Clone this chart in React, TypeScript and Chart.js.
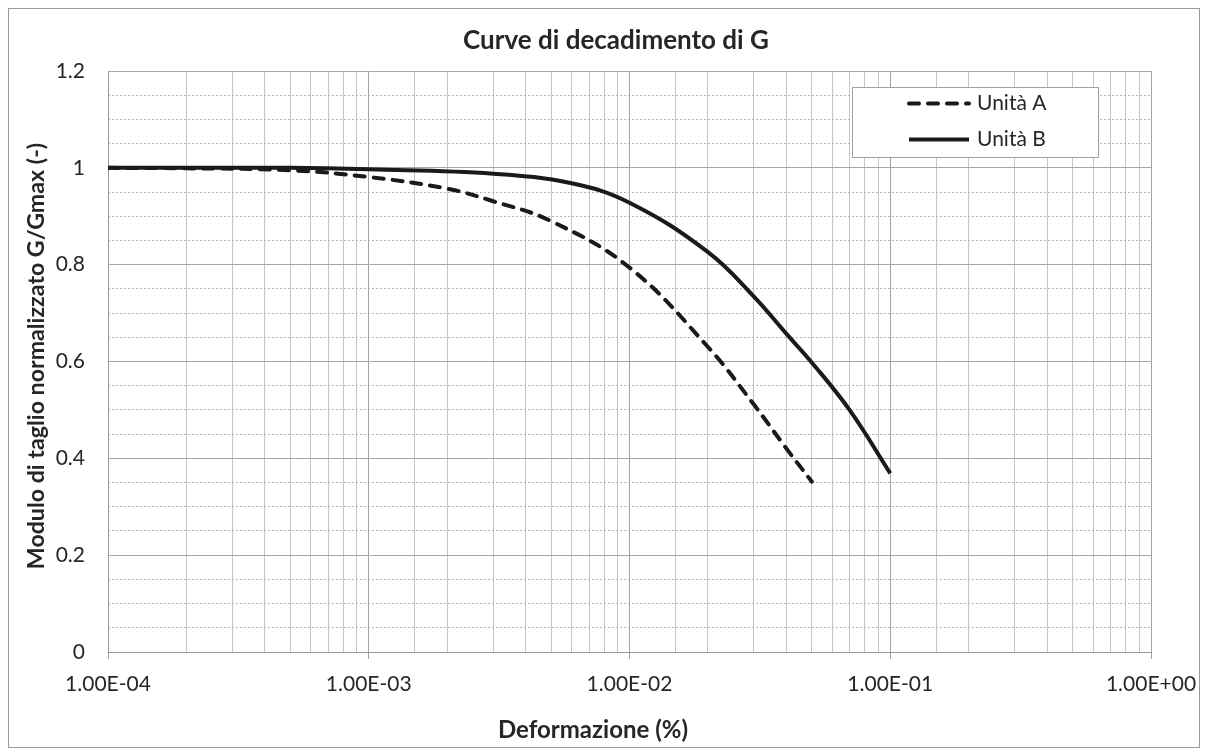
import React, { useEffect, useRef } from "react";
import { Chart, registerables } from "chart.js";

Chart.register(...registerables);

// Shear strain (%) and normalised shear modulus G/Gmax for each unit
const strainA = [1e-4, 2e-4, 5e-4, 1e-3, 2e-3, 3e-3, 5e-3, 1e-2, 2e-2, 3e-2, 4e-2, 5e-2];
const ratioA = [1.0, 0.999, 0.995, 0.981, 0.957, 0.931, 0.89, 0.794, 0.63, 0.511, 0.42, 0.352];

const strainB = [1e-4, 5e-4, 1e-3, 3e-3, 6e-3, 1e-2, 2e-2, 3e-2, 4e-2, 5e-2, 7e-2, 1e-1];
const ratioB = [1.0, 1.0, 0.997, 0.988, 0.968, 0.928, 0.826, 0.734, 0.657, 0.598, 0.499, 0.369];

const seriesLabels = ["Unità A", "Unità B"];

const chartTitle = "Curve di decadimento di G";
const xAxisTitle = "Deformazione (%)";
const yAxisTitle = "Modulo di taglio normalizzato G/Gmax (-)";

const xMin = 1e-4;
const xMax = 1;
const yMin = 0;
const yMax = 1.2;
const yMajorStep = 0.2;
const yMinorStep = 0.05;

const FONT = "Lato, 'Open Sans', sans-serif";
const TEXT = "#262626";
const LINE = "#1a1a1a";

const isDecade = (v: number) => {
  const l = Math.log10(v);
  return Math.abs(l - Math.round(l)) < 1e-6;
};

const isMultiple = (v: number, step: number) =>
  Math.abs(v / step - Math.round(v / step)) < 1e-6;

// 1.00E-04 style labels
const sci = (v: number) => {
  const e = Math.round(Math.log10(v));
  const m = v / Math.pow(10, e);
  const sign = e < 0 ? "-" : "+";
  return m.toFixed(2) + "E" + sign + String(Math.abs(e)).padStart(2, "0");
};

const decorPlugin = {
  id: "decor",
  beforeDraw(chart: any) {
    const { ctx, width, height } = chart;
    ctx.save();
    ctx.fillStyle = "#ffffff";
    ctx.fillRect(0, 0, width, height);
    ctx.strokeStyle = "#9a9a9a";
    ctx.lineWidth = 1;
    ctx.strokeRect(0.5, 0.5, width - 1, height - 1);
    ctx.restore();
  },
  afterDraw(chart: any) {
    const { ctx } = chart;
    ctx.save();
    ctx.fillStyle = TEXT;
    ctx.textAlign = "center";
    ctx.textBaseline = "middle";

    // chart title
    ctx.font = `bold 26px ${FONT}`;
    ctx.fillText(chartTitle, 608, 33);

    // x axis title
    ctx.font = `bold 24px ${FONT}`;
    ctx.fillText(xAxisTitle, 585, 722);

    // y axis title
    ctx.save();
    ctx.font = `bold 23.2px ${FONT}`;
    ctx.translate(29, 348);
    ctx.rotate(-Math.PI / 2);
    ctx.fillText(yAxisTitle, 0, 0);
    ctx.restore();

    // legend box
    const bx = 844.5, by = 79.5, bw = 246, bh = 70;
    ctx.fillStyle = "#ffffff";
    ctx.fillRect(bx, by, bw, bh);
    ctx.strokeStyle = "#a0a0a0";
    ctx.lineWidth = 1;
    ctx.strokeRect(bx, by, bw, bh);

    const rows = [95.5, 131.5];
    chart.data.datasets.forEach((ds: any, i: number) => {
      const y = rows[i];
      ctx.save();
      ctx.strokeStyle = ds.borderColor;
      ctx.lineWidth = ds.borderWidth;
      ctx.lineCap = ds.borderCapStyle || "butt";
      ctx.setLineDash(ds.borderDash || []);
      ctx.beginPath();
      ctx.moveTo(901, y);
      ctx.lineTo(961, y);
      ctx.stroke();
      ctx.restore();
      ctx.fillStyle = TEXT;
      ctx.font = `21px ${FONT}`;
      ctx.textAlign = "left";
      ctx.textBaseline = "middle";
      ctx.fillText(ds.label, 969, y);
    });
    ctx.restore();
  },
};

export default function App() {
  const canvasRef = useRef<HTMLCanvasElement | null>(null);

  useEffect(() => {
    const canvas = canvasRef.current;
    if (!canvas) return;

    const chart = new Chart(canvas, {
      type: "line",
      data: {
        datasets: [
          {
            label: seriesLabels[0],
            data: strainA.map((x, i) => ({ x, y: ratioA[i] })),
            borderColor: LINE,
            backgroundColor: LINE,
            borderWidth: 4,
            borderDash: [10, 9],
            borderCapStyle: "round",
            pointRadius: 0,
            tension: 0.4,
            fill: false,
          },
          {
            label: seriesLabels[1],
            data: strainB.map((x, i) => ({ x, y: ratioB[i] })),
            borderColor: LINE,
            backgroundColor: LINE,
            borderWidth: 4,
            borderCapStyle: "butt",
            pointRadius: 0,
            tension: 0.4,
            fill: false,
          },
        ],
      },
      options: {
        responsive: false,
        animation: false,
        layout: { padding: { top: 63, right: 49, left: 0, bottom: 0 } },
        plugins: {
          legend: { display: false },
          title: { display: false },
          tooltip: { enabled: false },
        },
        scales: {
          x: {
            type: "logarithmic",
            min: xMin,
            max: xMax,
            afterFit: (s: any) => {
              s.height = 96;
              s.paddingLeft = 0;
              s.paddingRight = 0;
            },
            ticks: {
              autoSkip: false,
              maxRotation: 0,
              minRotation: 0,
              padding: 13,
              color: TEXT,
              font: { family: FONT, size: 21 },
              callback: (v: any) => (isDecade(Number(v)) ? sci(Number(v)) : ""),
            },
            grid: {
              color: (c: any) => (c.tick && isDecade(c.tick.value) ? "#a3a3a3" : "#c6c6c6"),
              tickColor: (c: any) => (c.tick && isDecade(c.tick.value) ? "#a3a3a3" : "rgba(0,0,0,0)"),
              tickLength: 7,
              lineWidth: 1,
            },
            border: { display: true, color: "#9a9a9a", width: 1 },
          },
          y: {
            type: "linear",
            position: "left",
            min: yMin,
            max: yMax,
            afterFit: (s: any) => {
              s.width = 100;
            },
            ticks: {
              stepSize: yMajorStep,
              padding: 23,
              color: TEXT,
              font: { family: FONT, size: 21 },
              callback: (v: any) => String(Number(Number(v).toFixed(1))),
            },
            grid: {
              color: "#a6a6a6",
              drawTicks: false,
              lineWidth: 1,
            },
            border: { display: true, color: "#9a9a9a", width: 1 },
          },
          yMinor: {
            type: "linear",
            position: "left",
            min: yMin,
            max: yMax,
            afterFit: (s: any) => {
              s.width = 0;
            },
            ticks: { display: false, stepSize: yMinorStep },
            grid: {
              color: (c: any) =>
                c.tick && !isMultiple(c.tick.value, yMajorStep) ? "#b4b4b4" : "rgba(0,0,0,0)",
              drawTicks: false,
              lineWidth: 1,
            },
            border: { display: false, dash: [2, 2] },
          },
        },
      },
      plugins: [decorPlugin],
    } as any);

    return () => chart.destroy();
  }, []);

  return (
    <canvas
      ref={canvasRef}
      width={1192}
      height={740}
      style={{ display: "block", width: 1192, height: 740 }}
    />
  );
}
